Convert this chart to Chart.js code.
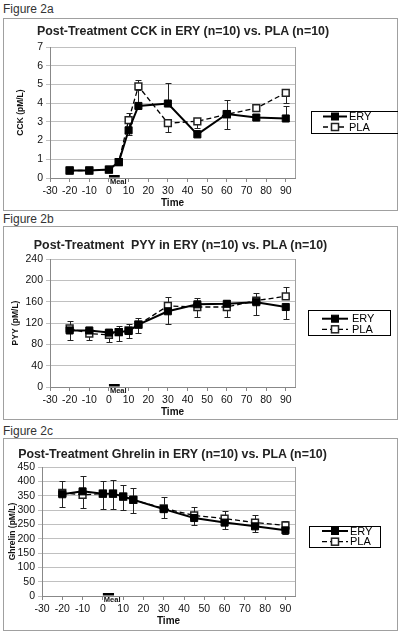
<!DOCTYPE html>
<html>
<head>
<meta charset="utf-8">
<script src="https://cdn.jsdelivr.net/npm/chart.js@4.4.1/dist/chart.umd.min.js"></script>
<style>
  body { margin: 0; background: #fff; font-family: "Liberation Sans", Arial, sans-serif; }
  #page { position: relative; width: 400px; height: 636px; overflow: hidden; }
  .fig { position: absolute; left: 3px; font-size: 12px; line-height: 14px; color: #333; }
  .box { position: absolute; left: 3px; width: 395px; box-sizing: border-box; border: 1px solid #a0a0a0; }
  .title { position: absolute; left: 0; font-weight: bold; font-size: 12.4px; line-height: 14px; color: #222; text-align: center; white-space: pre; }
  canvas { position: absolute; left: 3px; }
</style>
</head>
<body>
<div id="page">
  <div class="fig" style="top:2px">Figure 2a</div>
  <div class="box" style="top:18px;height:193px"></div>
  <canvas id="cck" width="395" height="193" style="top:18px"></canvas>
  <div class="title" style="top:24px;width:366px">Post-Treatment CCK in ERY (n=10) vs. PLA (n=10)</div>

  <div class="fig" style="top:212px">Figure 2b</div>
  <div class="box" style="top:226px;height:194px"></div>
  <canvas id="pyy" width="395" height="196" style="top:224px"></canvas>
  <div class="title" style="top:238px;width:361px">Post-Treatment  PYY in ERY (n=10) vs. PLA (n=10)</div>

  <div class="fig" style="top:424px">Figure 2c</div>
  <div class="box" style="top:438px;height:193px"></div>
  <canvas id="ghrelin" width="395" height="194" style="top:437px"></canvas>
  <div class="title" style="top:447px;width:345px">Post-Treatment Ghrelin in ERY (n=10) vs. PLA (n=10)</div>
</div>

<script>
const times = [-20, -10, 0, 5, 10, 15, 30, 45, 60, 75, 90];
const timeTicks = [-30, -20, -10, 0, 10, 20, 30, 40, 50, 60, 70, 80, 90];
const mealWindow = [0, 5.5];

const cckTicks = [0, 1, 2, 3, 4, 5, 6, 7];
const cckEry = [0.40, 0.40, 0.45, 0.85, 2.55, 3.85, 3.98, 2.33, 3.42, 3.23, 3.18];
const cckEryUp = [0.05, 0.05, 0.05, 0.1, 0.95, 1.37, 1.12, 0.25, 0.76, 0.15, 0.68];
const cckPla = [0.40, 0.40, 0.45, 0.85, 3.09, 4.90, 2.93, 3.03, 3.40, 3.73, 4.55];
const cckPlaDown = [0.05, 0.05, 0.05, 0.1, 0.8, 0.2, 0.45, 0.35, 0.8, 0.15, 0.52];

const pyyTicks = [0, 40, 80, 120, 160, 200, 240];
const pyyEry = [106, 106, 102, 103, 105, 117, 142, 155, 156, 159, 150];
const pyyEryDown = [18, 17, 18, 17, 14, 16, 24, 23, 24, 24, 23];
const pyyPla = [110, 100, 98, 103, 106, 117, 152, 150, 150, 162, 170];
const pyyPlaUp = [13, 11, 11, 11, 13, 12, 17, 17, 14, 15, 17];

const ghrTicks = [0, 50, 100, 150, 200, 250, 300, 350, 400, 450];
const ghrEry = [355, 365, 357, 357, 347, 336, 303, 272, 256, 243, 229];
const ghrEryUp = [47, 52, 43, 49, 41, 41, 44, 37, 41, 38, 34];
const ghrPla = [360, 353, 357, 357, 347, 335, 306, 281, 270, 256, 246];
const ghrPlaDown = [49, 46, 54, 54, 46, 46, 34, 32, 36, 31, 30];

const FONT = '"Liberation Sans", Arial, sans-serif';

function toPoints(xs, ys) {
  return xs.map((x, i) => ({ x: x, y: ys[i] }));
}

const errorBars = {
  id: 'errorBars',
  beforeDatasetsDraw(chart) {
    const ctx = chart.ctx;
    const y = chart.scales.y;
    ctx.save();
    ctx.strokeStyle = '#222';
    ctx.lineWidth = 1;
    chart.data.datasets.forEach((ds, i) => {
      const meta = chart.getDatasetMeta(i);
      meta.data.forEach((pt, j) => {
        const v = ds.data[j].y;
        const up = (ds.errUp || [])[j] || 0;
        const dn = (ds.errDown || [])[j] || 0;
        if (!up && !dn) return;
        const px = Math.round(pt.x) + 0.5;
        const top = Math.round(y.getPixelForValue(v + up)) + 0.5;
        const bot = Math.round(y.getPixelForValue(v - dn)) + 0.5;
        ctx.beginPath();
        ctx.moveTo(px, top);
        ctx.lineTo(px, bot);
        if (up) { ctx.moveTo(px - 3, top); ctx.lineTo(px + 3, top); }
        if (dn) { ctx.moveTo(px - 3, bot); ctx.lineTo(px + 3, bot); }
        ctx.stroke();
      });
    });
    ctx.restore();
  }
};

const extras = {
  id: 'extras',
  afterDraw(chart, args, opts) {
    const ctx = chart.ctx;
    const area = chart.chartArea;
    const x = chart.scales.x;
    ctx.save();
    // right edge of the plot area
    ctx.strokeStyle = '#a0a0a0';
    ctx.lineWidth = 1;
    ctx.beginPath();
    ctx.moveTo(Math.round(area.right) + 0.5, area.top);
    ctx.lineTo(Math.round(area.right) + 0.5, area.bottom);
    ctx.stroke();

    // meal bar
    const m0 = x.getPixelForValue(mealWindow[0]);
    const m1 = x.getPixelForValue(mealWindow[1]);
    ctx.fillStyle = '#000';
    ctx.fillRect(m0, area.bottom - 3, m1 - m0, 2.5);
    ctx.font = 'bold 7.5px ' + FONT;
    ctx.textBaseline = 'middle';
    ctx.textAlign = 'left';
    ctx.fillStyle = '#111';
    ctx.fillText('Meal', m0 + 1, area.bottom + 4);

    // legend box
    const b = opts.box;
    ctx.strokeStyle = '#000';
    ctx.lineWidth = 1;
    ctx.strokeRect(b.x + 0.5, b.y + 0.5, b.w, b.h);
    chart.data.datasets.forEach((ds, i) => {
      const ry = b.rows[i];
      ctx.save();
      ctx.strokeStyle = '#000';
      ctx.lineWidth = ds.borderWidth;
      ctx.setLineDash(ds.borderDash || []);
      ctx.beginPath();
      ctx.moveTo(b.lineX0, ry);
      ctx.lineTo(b.lineX1, ry);
      ctx.stroke();
      ctx.restore();
      const cx = (b.lineX0 + b.lineX1) / 2;
      ctx.fillStyle = ds.pointBackgroundColor;
      ctx.fillRect(cx - 3.5, ry - 3.5, 7, 7);
      ctx.strokeStyle = ds.pointBorderColor;
      ctx.lineWidth = ds.pointBorderWidth;
      ctx.strokeRect(cx - 3.5, ry - 3.5, 7, 7);
      ctx.fillStyle = '#000';
      ctx.font = '11px ' + FONT;
      ctx.fillText(ds.label, b.textX, ry + 0.5);
    });
    ctx.restore();
  }
};

function makeChart(id, cfg) {
  const ctx = document.getElementById(id).getContext('2d');
  return new Chart(ctx, {
    type: 'scatter',
    data: {
      datasets: [
        {
          label: 'ERY',
          data: toPoints(times, cfg.ery),
          errUp: cfg.eryUp,
          errDown: cfg.eryDown,
          showLine: true,
          borderColor: '#000',
          borderWidth: 2,
          pointStyle: 'rect',
          pointRadius: 5,
          pointBackgroundColor: '#000',
          pointBorderColor: '#000',
          pointBorderWidth: 1
        },
        {
          label: 'PLA',
          data: toPoints(times, cfg.pla),
          errUp: cfg.plaUp,
          errDown: cfg.plaDown,
          showLine: true,
          borderColor: '#000',
          borderWidth: 1.3,
          borderDash: [5, 3],
          pointStyle: 'rect',
          pointRadius: 4.8,
          pointBackgroundColor: '#fff',
          pointBorderColor: '#222',
          pointBorderWidth: 1.5
        }
      ]
    },
    options: {
      responsive: false,
      animation: false,
      layout: { padding: { top: cfg.padTop, right: 103, left: 0, bottom: 0 } },
      plugins: {
        legend: { display: false },
        tooltip: { enabled: false },
        extras: { box: cfg.legend }
      },
      scales: {
        x: {
          type: 'linear',
          min: -30,
          max: 94.7,
          afterBuildTicks: s => { s.ticks = timeTicks.map(v => ({ value: v })); },
          afterFit: s => { s.height = cfg.xh; },
          grid: { drawOnChartArea: false, drawTicks: true, tickLength: 4, color: '#888' },
          border: { color: '#888', width: 1 },
          ticks: { font: { family: FONT, size: 10.5 }, color: '#111', padding: 3, maxRotation: 0, autoSkip: false },
          title: { display: true, text: 'Time', color: '#111', font: { family: FONT, size: 10, weight: 'bold' }, padding: { top: 0, bottom: cfg.timePad } }
        },
        y: {
          min: 0,
          max: cfg.ticks[cfg.ticks.length - 1],
          afterBuildTicks: s => { s.ticks = cfg.ticks.map(v => ({ value: v })); },
          afterFit: s => { s.width = cfg.yw; },
          grid: { color: '#c0c0c0', tickLength: 4 },
          border: { color: '#888', width: 1 },
          ticks: { font: { family: FONT, size: 10.5 }, color: '#111', padding: 3, autoSkip: false },
          title: { display: true, text: cfg.yTitle, color: '#111', font: { family: FONT, size: 8.5, weight: 'bold' }, padding: { top: cfg.yTitlePad, bottom: 0 } }
        }
      }
    },
    plugins: [errorBars, extras]
  });
}

makeChart('cck', {
  ery: cckEry, eryUp: cckEryUp, eryDown: null,
  pla: cckPla, plaUp: null, plaDown: cckPlaDown,
  ticks: cckTicks, yTitle: 'CCK (pM/L)',
  padTop: 29, xh: 33, yw: 47, timePad: 2, yTitlePad: 12.5,
  legend: { x: 308, y: 93, w: 87, h: 22, rows: [98.5, 109], lineX0: 320, lineX1: 344, textX: 346 }
});

makeChart('pyy', {
  ery: pyyEry, eryUp: null, eryDown: pyyEryDown,
  pla: pyyPla, plaUp: pyyPlaUp, plaDown: null,
  ticks: pyyTicks, yTitle: 'PYY (pM/L)',
  padTop: 35, xh: 33, yw: 47, timePad: 2, yTitlePad: 7.5,
  legend: { x: 305, y: 86, w: 82, h: 25, rows: [94.7, 105.3], lineX0: 319, lineX1: 345, textX: 349 }
});

makeChart('ghrelin', {
  ery: ghrEry, eryUp: ghrEryUp, eryDown: null,
  pla: ghrPla, plaUp: null, plaDown: ghrPlaDown,
  ticks: ghrTicks, yTitle: 'Ghrelin (pM/L)',
  padTop: 30, xh: 35, yw: 39, timePad: 4, yTitlePad: 5,
  legend: { x: 306, y: 89, w: 71, h: 21, rows: [94, 104.7], lineX0: 319, lineX1: 345, textX: 347 }
});
</script>
</body>
</html>
